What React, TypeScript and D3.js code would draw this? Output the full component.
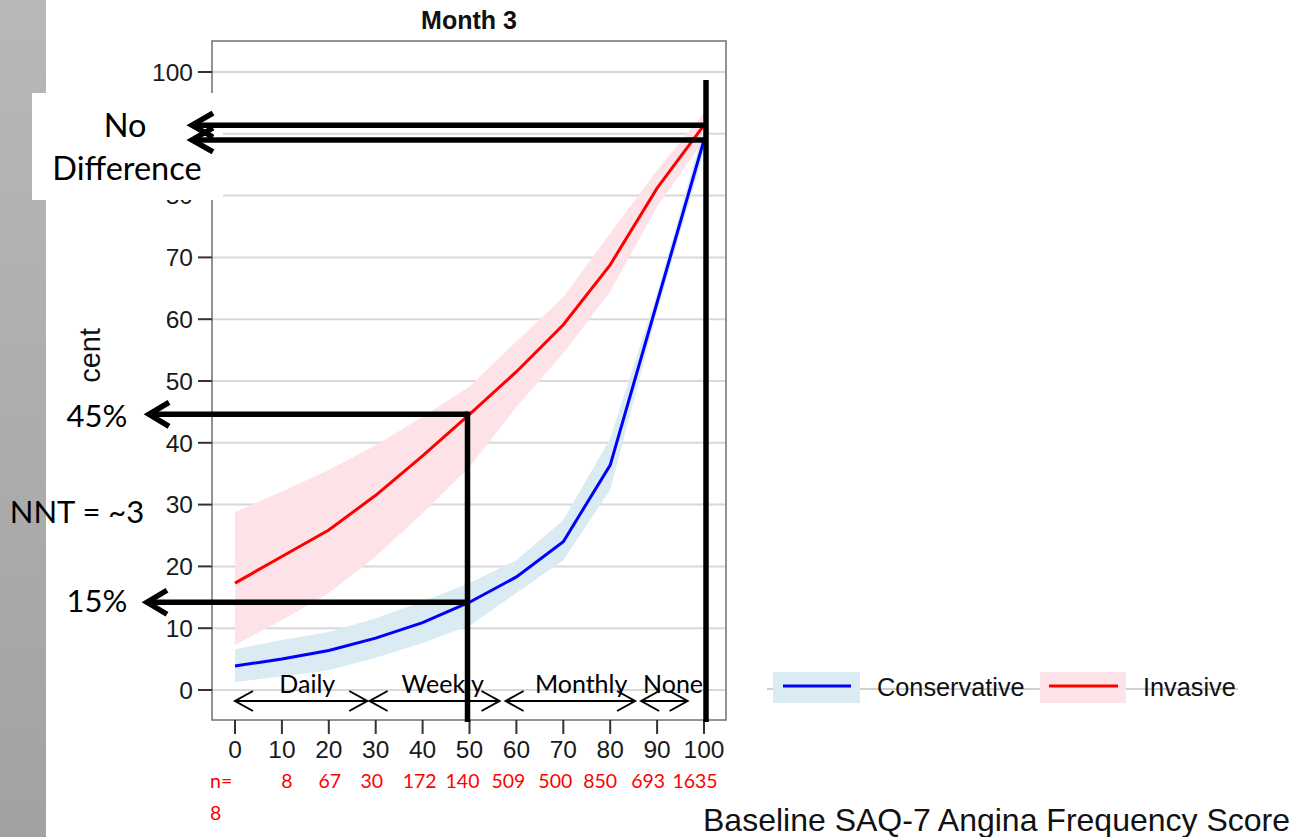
import React from "react";
import * as d3 from "d3";

// Baseline SAQ-7 angina frequency score (x) and predicted percent at month 3
const scoreTicks = [0, 10, 20, 30, 40, 50, 60, 70, 80, 90, 100];
const yTicks = [0, 10, 20, 30, 40, 50, 60, 70, 80, 90, 100];

const conservative = [3.9, 5.0, 6.4, 8.4, 10.9, 14.2, 18.3, 24.0, 36.4, 62.7, 89.0];
const conservativeLo = [1.3, 2.2, 3.2, 5.2, 7.6, 10.4, 15.7, 21.0, 32.4, 61.2, 87.0];
const conservativeHi = [6.6, 8.1, 9.4, 11.6, 14.3, 17.3, 21.0, 27.5, 40.7, 64.2, 91.0];

const invasive = [17.3, 21.6, 25.9, 31.5, 37.9, 44.6, 51.5, 59.1, 68.8, 81.2, 91.4];
const invasiveLo = [7.3, 11.3, 15.7, 21.6, 28.6, 36.1, 45.8, 54.5, 64.5, 78.2, 89.0];
const invasiveHi = [28.8, 32.1, 35.6, 39.6, 44.2, 49.1, 56.4, 63.6, 73.9, 84.1, 93.4];

// patients per baseline score bin
const nCounts = ["8", "67", "30", "172", "140", "509", "500", "850", "693", "1635"];
const nShift = [5, 1, -4, -3, -7, -8, -8, -10, -9, -9];

// frequency bands along the score axis
const bandNames = ["Daily", "Weekly", "Monthly", "None"];
const bandStart = [0, 28.7, 57.7, 86.6];
const bandEnd = [28.2, 56.4, 85.3, 96.5];
const bandLabelAt = [15.4, 44.3, 73.8, 93.4];

const W = 1294;
const H = 837;
const frame = { left: 212, right: 726, top: 41, bottom: 720 };

const x = d3.scaleLinear().domain([0, 100]).range([235, 704]);
const y = d3.scaleLinear().domain([0, 100]).range([690, 72]);

const line = d3
  .line<number>()
  .x((_, i) => x(scoreTicks[i]))
  .y((d) => y(d));

const area = (lo: number[], hi: number[]) =>
  d3
    .area<number>()
    .x((_, i) => x(scoreTicks[i]))
    .y0((_, i) => y(lo[i]))
    .y1((_, i) => y(hi[i]))(lo) as string;

const AX = "Liberation Sans, Arial, sans-serif";
const CAL = "Lato, sans-serif";

// the "No Difference" callout box
const noteBox = { x: 32, y: 93, w: 191, h: 107 };

function Chevron({ tx, ty, dir, len, half, w }: { tx: number; ty: number; dir: number; len: number; half: number; w: number }) {
  return (
    <path
      d={`M${tx + dir * len},${ty - half} L${tx},${ty} L${tx + dir * len},${ty + half}`}
      fill="none"
      stroke="#000"
      strokeWidth={w}
    />
  );
}

export default function App() {
  const i50 = scoreTicks.indexOf(50);
  const i100 = scoreTicks.indexOf(100);
  const yRed100 = y(invasive[i100]);
  const yBlue100 = y(conservative[i100]);
  const yRed50 = y(invasive[i50]);
  const yBlue50 = y(conservative[i50]);
  const vx100 = x(100) + 2;
  const vx50 = x(50) - 2;
  const thick = 5.5;

  // tick labels fully under the callout box are not drawn; partly covered ones are clipped
  const boxBottom = noteBox.y + noteBox.h;
  const visibleYTicks = yTicks.filter((t) => !(y(t) - 9 > noteBox.y && y(t) + 9 < boxBottom));

  return (
    <svg width={W} height={H} style={{ position: "absolute", left: 0, top: 0, background: "#fff" }}>
      <defs>
        <linearGradient id="strip" x1="0" y1="0" x2="0" y2="1">
          <stop offset="0" stopColor="#b8b8b8" />
          <stop offset="1" stopColor="#a2a2a2" />
        </linearGradient>
        <clipPath id="ylabClip">
          <rect x={0} y={0} width={200} height={383} />
        </clipPath>
        <clipPath id="tickClip">
          <rect x={0} y={0} width={W} height={noteBox.y} />
          <rect x={0} y={boxBottom} width={W} height={H - boxBottom} />
        </clipPath>
      </defs>

      <rect x={0} y={0} width={46} height={H} fill="url(#strip)" />

      {/* grid */}
      {yTicks.map((t) => (
        <line key={t} x1={frame.left} x2={frame.right} y1={y(t)} y2={y(t)} stroke="#d8d8d8" strokeWidth={2} />
      ))}

      {/* confidence bands */}
      <path d={area(invasiveLo, invasiveHi)} fill="#fde3e7" />
      <path d={area(conservativeLo, conservativeHi)} fill="#daebf3" />

      {/* series */}
      <path d={line(invasive) as string} fill="none" stroke="#ff0000" strokeWidth={3} />
      <path d={line(conservative) as string} fill="none" stroke="#0000ff" strokeWidth={3} />

      {/* frame */}
      <rect
        x={frame.left}
        y={frame.top}
        width={frame.right - frame.left}
        height={frame.bottom - frame.top}
        fill="none"
        stroke="#707070"
        strokeWidth={1.5}
      />

      {/* y axis */}
      {yTicks.map((t) => (
        <line key={t} x1={198} x2={frame.left} y1={y(t)} y2={y(t)} stroke="#333" strokeWidth={2} />
      ))}
      <g clipPath="url(#tickClip)">
        {visibleYTicks.map((t) => (
          <text key={t} x={193} y={y(t)} dy="0.36em" textAnchor="end" fontFamily={AX} fontSize={24.5} fill="#1a1a1a">
            {t}
          </text>
        ))}
      </g>

      {/* x axis */}
      {scoreTicks.map((t) => (
        <g key={t}>
          <line x1={x(t)} x2={x(t)} y1={frame.bottom} y2={frame.bottom + 14} stroke="#333" strokeWidth={2} />
          <text x={x(t)} y={758} textAnchor="middle" fontFamily={AX} fontSize={24.5} fill="#1a1a1a">
            {t}
          </text>
        </g>
      ))}

      <text x={(frame.left + frame.right) / 2} y={29} textAnchor="middle" fontFamily={AX} fontWeight="bold" fontSize={25} fill="#111">
        Month 3
      </text>

      <g clipPath="url(#ylabClip)">
        <text transform="translate(100,428) rotate(-90)" textAnchor="start" fontFamily={AX} fontSize={29} fill="#111">
          Percent
        </text>
      </g>

      {/* sample sizes */}
      <text x={210} y={788} fontFamily={CAL} fontSize={19.5} fill="#ff0000">n=</text>
      <text x={210} y={820} fontFamily={CAL} fontSize={19.5} fill="#ff0000">8</text>
      {nCounts.map((c, i) => (
        <text key={i} x={x(scoreTicks[i + 1]) + nShift[i]} y={788} textAnchor="middle" fontFamily={CAL} fontSize={19.5} fill="#ff0000">
          {c}
        </text>
      ))}

      <text x={703} y={831} fontFamily={AX} fontSize={32} fill="#111">
        Baseline SAQ-7 Angina Frequency Score
      </text>

      {/* legend */}
      <line x1={767} x2={1238} y1={689} y2={689} stroke="#cfcfcf" strokeWidth={2} />
      <rect x={773} y={672} width={87} height={31} fill="#daebf3" />
      <line x1={783} x2={851} y1={686} y2={686} stroke="#0000ff" strokeWidth={3} />
      <text x={877} y={696} fontFamily={AX} fontSize={25.3} fill="#111">Conservative</text>
      <rect x={1040} y={672} width={86} height={31} fill="#fde3e7" />
      <line x1={1049} x2={1118} y1={686} y2={686} stroke="#ff0000" strokeWidth={3} />
      <text x={1143} y={696} fontFamily={AX} fontSize={25.3} fill="#111">Invasive</text>

      {/* frequency bands */}
      {bandNames.map((b, i) => (
        <g key={b}>
          <line x1={x(bandStart[i])} x2={x(bandEnd[i])} y1={701} y2={701} stroke="#000" strokeWidth={2} />
          <Chevron tx={x(bandStart[i])} ty={701} dir={1} len={18} half={10} w={2} />
          <Chevron tx={x(bandEnd[i])} ty={701} dir={-1} len={18} half={10} w={2} />
          <text x={x(bandLabelAt[i])} y={693} textAnchor="middle" fontFamily={CAL} fontSize={25} fill="#000">
            {b}
          </text>
        </g>
      ))}

      {/* annotation: no difference at score 100 */}
      <rect x={noteBox.x} y={noteBox.y} width={noteBox.w} height={noteBox.h} fill="#fff" />
      <line x1={vx100} x2={vx100} y1={y(98.7)} y2={722} stroke="#000" strokeWidth={thick} />
      <line x1={192} x2={vx100} y1={yRed100} y2={yRed100} stroke="#000" strokeWidth={thick} />
      <line x1={192} x2={vx100} y1={yBlue100} y2={yBlue100} stroke="#000" strokeWidth={thick} />
      <Chevron tx={192} ty={yRed100} dir={1} len={21} half={12} w={thick} />
      <Chevron tx={192} ty={yBlue100} dir={1} len={21} half={12} w={thick} />
      <text x={125} y={137} textAnchor="middle" fontFamily={CAL} fontSize={32.5} fill="#000">No</text>
      <text x={127} y={180} textAnchor="middle" fontFamily={CAL} fontSize={32.5} fill="#000">Difference</text>

      {/* annotation: score 50 */}
      <line x1={vx50} x2={vx50} y1={yRed50 - thick / 2} y2={722} stroke="#000" strokeWidth={thick} />
      <line x1={149} x2={vx50} y1={yRed50} y2={yRed50} stroke="#000" strokeWidth={thick} />
      <line x1={147} x2={vx50} y1={yBlue50} y2={yBlue50} stroke="#000" strokeWidth={thick} />
      <Chevron tx={149} ty={yRed50} dir={1} len={20} half={12} w={thick} />
      <Chevron tx={147} ty={yBlue50} dir={1} len={20} half={12} w={thick} />
      <text x={97} y={427} textAnchor="middle" fontFamily={CAL} fontSize={31} fill="#000">45%</text>
      <text x={77} y={523} textAnchor="middle" fontFamily={CAL} fontSize={31} fill="#000">NNT = ~3</text>
      <text x={97} y={612} textAnchor="middle" fontFamily={CAL} fontSize={31} fill="#000">15%</text>
    </svg>
  );
}
